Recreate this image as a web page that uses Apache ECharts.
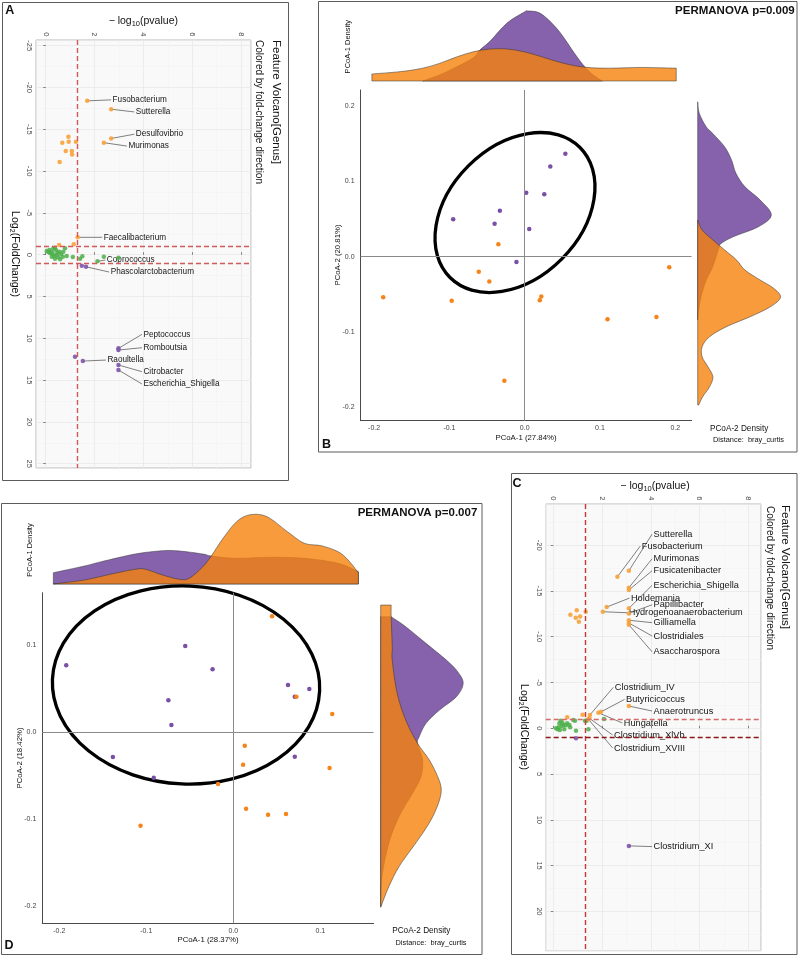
<!DOCTYPE html>
<html><head><meta charset="utf-8">
<script src="https://cdn.jsdelivr.net/npm/echarts@6/dist/echarts.min.js"></script>
<style>html,body{margin:0;padding:0;background:#fff}#c{width:800px;height:956px}</style>
</head><body><div id="c"></div>
<script>
// ================= DATA =================
// ---- Panel A : feature volcano (x = -log10 p, y = log2 fold change) ----
const A_orange_names = ['Fusobacterium','Sutterella','Desulfovibrio','Murimonas','','','','','','','','','Faecalibacterium','',''];
const A_orange_x = [1.70,2.68,2.68,2.38,0.93,0.68,0.94,1.24,0.82,1.07,1.08,0.57,1.31,0.55,1.15];
const A_orange_y = [-18.4,-17.4,-13.9,-13.4,-14.1,-13.4,-13.5,-13.5,-12.4,-12.4,-12.0,-11.1,-2.08,-1.16,-1.24];
const A_green_names = ['Coprococcus','','','','','','','','','','','','','','','','','','','','','','','','','','',''];
const A_green_x = [2.12,0.04,0.15,0.25,0.31,0.38,0.42,0.48,0.18,0.29,0.35,0.45,0.56,0.63,0.70,0.52,0.38,0.25,0.11,0.79,0.86,1.11,1.41,1.50,2.38,2.98,0.59,0.72];
const A_green_y = [0.79,-0.44,-0.56,-0.36,-0.76,-0.84,-0.56,-0.24,-0.16,-0.08,0.16,0.04,-0.36,-0.08,0.24,0.31,0.47,0.24,-0.32,-0.76,0.16,0.27,0.47,0.19,0.24,0.35,0.55,-0.36];
const A_purple_names = ['Phascolarctobacterium','','Peptococcus','Romboutsia','Raoultella','','Citrobacter','Escherichia_Shigella'];
const A_purple_x = [1.65,1.48,2.98,2.98,1.52,1.20,2.98,2.98];
const A_purple_y = [1.44,1.32,11.2,11.4,12.72,12.2,13.19,13.79];
const A_cut_p = [1.301];
const A_cut_fc = [-1, 1];

// ---- Panel C : feature volcano ----
const C_orange_names = ['Sutterella','Fusobacterium','Murimonas','Fusicatenibacter','Escherichia_Shigella','Holdemania','Papillibacter','Hydrogenoanaerobacterium','Gilliamella','Clostridiales','Asaccharospora','','','','','','','Clostridium_IV','Butyricicoccus','Anaerotruncus','Hungatella','Clostridium_XlVb','Clostridium_XVIII','',''];
const C_orange_x = [3.1,2.63,3.1,3.1,3.1,2.19,3.1,2.03,3.1,3.1,3.1,0.70,0.96,0.92,1.10,1.05,1.33,1.50,1.96,3.1,1.85,1.48,1.44,1.20,0.57];
const C_orange_y = [-17.2,-16.55,-15.35,-15.1,-13.1,-13.24,-12.55,-12.73,-11.8,-11.5,-11.3,-12.4,-12.9,-12.07,-12.2,-11.64,-12.73,-1.45,-1.8,-2.43,-1.7,-1.09,-0.98,-1.49,-1.2];
const C_green_x = [0.11,0.21,0.25,0.30,0.34,0.41,0.45,0.52,0.57,0.66,0.69,0.18,0.37,0.89,0.93,1.30,1.37,1.44,2.08,0.82,0.27];
const C_green_y = [0.0,-0.11,-0.55,-0.83,-0.25,-0.36,0.11,-0.33,-0.55,-0.36,-0.11,0.11,-0.62,-0.83,0.26,-0.83,-0.83,0.11,-1.0,-0.91,0.19];
const C_purple_names = ['','Clostridium_XI'];
const C_purple_x = [0.93,3.1];
const C_purple_y = [1.09,12.85];
const C_cut_p = [1.301];
const C_cut_fc = [-1, 1];

// ---- Panel B : PCoA (bray_curtis), [PCoA-1, PCoA-2] ----
const B_purple = [[0.054,0.137],[0.034,0.120],[0.002,0.085],[0.026,0.083],[-0.033,0.061],[-0.095,0.050],[-0.040,0.044],[0.006,0.037],[-0.011,-0.007]];
const B_orange = [[-0.035,0.0165],[-0.061,-0.020],[-0.047,-0.033],[-0.188,-0.054],[-0.097,-0.0585],[0.022,-0.053],[0.020,-0.058],[0.110,-0.083],[0.175,-0.080],[0.192,-0.014],[-0.027,-0.165]];
const B_ellipse = [-0.0129, 0.0588, 0.1221, 0.0877, 45]; // centre x, centre y, semi-axis a, semi-axis b, angle
// marginal densities: [coordinate, density]
const B_top_purple = [[-0.1356,0],[-0.1132,0.75],[-0.0907,1.75],[-0.0683,2.9],[-0.0593,3.9],[-0.0458,5.0],[-0.0234,7.25],[-0.0008,8.6],[0.0045,8.75],[0.0217,8.4],[0.0441,6.4],[0.0666,3.4],[0.0778,2.0],[0.089,0.9],[0.103,0]];
const B_top_orange = [[-0.203,0.88],[-0.1805,1.04],[-0.158,1.25],[-0.1356,1.6],[-0.1132,2.2],[-0.0907,3.0],[-0.0683,3.65],[-0.0458,4.0],[-0.0234,4.0],[-0.0008,3.65],[0.0217,3.05],[0.0441,2.4],[0.0666,1.9],[0.089,1.65],[0.1115,1.6],[0.134,1.65],[0.1563,1.7],[0.179,1.65],[0.2013,1.6]];
const B_right_purple = [[0.206,0],[0.1907,0.2],[0.1729,1.06],[0.164,1.88],[0.146,3.38],[0.1286,4.23],[0.111,4.78],[0.093,5.91],[0.0754,7.81],[0.0555,9.2],[0.0399,7.6],[0.0266,4.44],[0.0178,2.96],[0.0133,2.69],[-0.0133,1.88],[-0.031,1.06],[-0.053,0.43],[-0.071,0.13],[-0.084,0]];
const B_right_orange = [[0.0488,0],[0.0355,0.55],[0.0222,1.9],[0.0089,3.38],[-0.0044,4.86],[-0.0177,5.91],[-0.031,7.81],[-0.042,9.5],[-0.054,10.35],[-0.0665,9.09],[-0.0798,6.55],[-0.093,3.59],[-0.1064,1.48],[-0.1197,0.55],[-0.133,0.55],[-0.146,1.26],[-0.1596,1.9],[-0.173,1.48],[-0.186,0.63],[-0.197,0.13]];

// ---- Panel D : PCoA (bray_curtis) ----
const D_purple = [[-0.0552,0.0992],[-0.192,0.077],[-0.0238,0.0724],[0.0629,0.0544],[0.0874,0.0498],[0.0707,0.041],[-0.0746,0.0368],[-0.0711,0.0084],[-0.1384,-0.0284],[0.0707,-0.028],[-0.0914,-0.0522]];
const D_orange = [[0.0446,0.1333],[0.0726,0.041],[0.1138,0.021],[0.0132,-0.0154],[0.0113,-0.0372],[0.1107,-0.041],[-0.0175,-0.0594],[0.0147,-0.0878],[0.04,-0.0947],[0.0606,-0.0939],[-0.1066,-0.1073]];
const D_ellipse = [-0.0543, 0.0544, 0.1537, 0.1138, -2.5];
const D_top_purple = [[-0.2068,1.41],[-0.171,2.25],[-0.1516,2.79],[-0.1127,3.75],[-0.0816,4.16],[-0.0622,4.13],[-0.035,3.75],[-0.0253,3.5],[0.0038,3.21],[0.0427,3.34],[0.0816,3.21],[0.1205,2.59],[0.1438,1.54]];
const D_top_orange = [[-0.2068,0],[-0.171,0.5],[-0.1399,1.25],[-0.1127,1.84],[-0.101,1.84],[-0.0816,1.13],[-0.0622,0.59],[-0.0506,0.71],[-0.035,2.16],[-0.0253,3.5],[-0.0117,5.71],[0.0038,7.79],[0.0194,8.66],[0.0388,8.41],[0.0622,6.54],[0.0816,5.09],[0.101,4.79],[0.1205,4.04],[0.132,3.0],[0.1438,1.41]];
const D_right_purple = [[0.1329,1.31],[0.1214,3.13],[0.1023,5.66],[0.0831,8.2],[0.07,9.6],[0.0563,10.31],[0.0409,9.46],[0.0256,7.35],[0.0103,5.66],[-0.0051,4.81],[-0.0126,4.6],[-0.0318,5.24],[-0.051,5.03],[-0.0701,3.98],[-0.097,2.28],[-0.1276,1.01],[-0.166,0.16],[-0.2,0]];
const D_right_orange = [[0.1463,1.31],[0.1329,1.31],[0.0984,1.44],[0.0831,1.44],[0.0448,2.06],[0.0141,3.13],[-0.0126,4.6],[-0.0318,6.08],[-0.051,7.13],[-0.0644,7.56],[-0.0778,7.35],[-0.097,6.5],[-0.1161,5.24],[-0.1353,3.75],[-0.1545,2.28],[-0.1775,1.01],[-0.2011,0]];

// ================= LAYOUT (label offsets in px, relative to the point) =================
const A_label_off = {Fusobacterium:[25.4,-1],Sutterella:[24.7,2.7],Desulfovibrio:[24.7,-4.3],Murimonas:[24.6,3.4],Faecalibacterium:[26,0],Coprococcus:[9.4,-1.3],Phascolarctobacterium:[24.7,5.3],Peptococcus:[25,-14],Romboutsia:[25,-2.3],Raoultella:[24.6,-1],Citrobacter:[25,6.7],Escherichia_Shigella:[25,14]};
const C_label_off = {Sutterella:[24.7,-36.7],Fusobacterium:[24.4,-30.7],Murimonas:[24.7,-29],Fusicatenibacter:[24.7,-19.3],Escherichia_Shigella:[24.7,-23],Holdemania:[24.3,-9],Papillibacter:[24.7,-8.6],Hydrogenoanaerobacterium:[26,1],Gilliamella:[24.7,2.4],Clostridiales:[24.7,13],Asaccharospora:[24.7,27],Clostridium_IV:[25,-27.7],Butyricicoccus:[25,-12.4],Anaerotruncus:[24.7,5],Hungatella:[25.4,10.3],Clostridium_XlVb:[24.7,16.7],Clostridium_XVIII:[25.7,28.7],Clostridium_XI:[24.7,0.7]};

const FONT = "'Liberation Sans', Arial, Helvetica, sans-serif";
const COL = {vOrange:'#F7A13A', vGreen:'#4DAF4A', vPurple:'#7D55AA', pOrange:'#F5841A', pPurple:'#7A4FA6',
             dPurple:'#8562AB', dOrange:'rgba(245,130,13,0.80)'};

function pairs(xs, ys){ return xs.map((x,i)=>[x, ys[i]]); }
function labeled(names, xs, ys){ const o=[]; names.forEach((n,i)=>{ if(n) o.push({name:n,x:xs[i],y:ys[i]}); }); return o; }
const fmt = p => p[0].toFixed(2)+','+p[1].toFixed(2);

// ================= AXES =================
function volX(gi, min, max){ return {type:'value', gridIndex:gi, position:'top', min, max, splitNumber:5,
  axisLine:{show:false}, axisTick:{show:true,length:2.5,lineStyle:{color:'#666',width:0.8}},
  axisLabel:{rotate:-90, fontSize:7.5, color:'#4d4d4d', margin:3.5, fontFamily:FONT, showMinLabel:false, showMaxLabel:false},
  splitLine:{show:true,lineStyle:{color:'#E8E8E8',width:0.8}}, minorTick:{show:false,splitNumber:2},
  minorSplitLine:{show:true,lineStyle:{color:'#F1F1F1',width:0.6}}}; }
function volY(gi, min, max){ return {type:'value', gridIndex:gi, inverse:true, min, max, splitNumber:10,
  axisLine:{show:false}, axisTick:{show:true,length:2.5,lineStyle:{color:'#666',width:0.8}},
  axisLabel:{rotate:-90, fontSize:7.5, color:'#4d4d4d', margin:3, fontFamily:FONT, showMinLabel:false, showMaxLabel:false},
  splitLine:{show:true,lineStyle:{color:'#E8E8E8',width:0.8}}, minorTick:{show:false,splitNumber:2},
  minorSplitLine:{show:true,lineStyle:{color:'#F1F1F1',width:0.6}}}; }
function pcoaAxis(gi, min, max, isX){ return {type:'value', gridIndex:gi, min, max, splitNumber:5,
  axisLine:{show:true,onZero:false,lineStyle:{color:'#4a4a4a',width:1}}, axisTick:{show:false}, splitLine:{show:false},
  axisLabel:{fontSize:7, color:'#444', margin:isX?4:6, fontFamily:FONT, showMinLabel:false, showMaxLabel:false,
    formatter:v=>v.toFixed(1)}}; }
function hid(gi, min, max){ return {type:'value', gridIndex:gi, min, max, show:false, splitLine:{show:false}}; }

const grid = [
  {left:36, top:40, width:215, height:428, show:true, backgroundColor:'#F9F9F9', borderColor:'#B8B8B8', borderWidth:1},
  {left:360.6, top:90, width:331, height:330.7},
  {left:360.6, top:5, width:331, height:76},
  {left:697.7, top:90, width:100, height:330.7},
  {left:42.3, top:592.7, width:331.3, height:330.6},
  {left:42.3, top:508, width:331.3, height:76},
  {left:380.7, top:592.7, width:100, height:330.6},
  {left:545.7, top:504, width:215.3, height:446.7, show:true, backgroundColor:'#F9F9F9', borderColor:'#B8B8B8', borderWidth:1}
].map(g=>Object.assign({containLabel:false, outerBoundsMode:'none'}, g));

const xAxis = [
  volX(0,-0.398,8.41),
  pcoaAxis(1,-0.218,0.2217,true), hid(2,-0.218,0.2217), hid(3,0,12.5),
  pcoaAxis(4,-0.2195,0.1613,true), hid(5,-0.2195,0.1613), hid(6,0,12.5),
  volX(7,-0.312,8.521)
];
const yAxis = [
  volY(0,-25.68,25.51),
  pcoaAxis(1,-0.218,0.2217,false), hid(2,0,9.5), hid(3,-0.218,0.2217),
  pcoaAxis(4,-0.2195,0.1605,false), hid(5,0,9.5), hid(6,-0.2195,0.1605),
  volY(7,-24.5,24.3)
];

// ================= SERIES HELPERS =================
function scatter(gi, data, color, size, opacity, z){ return {type:'scatter', xAxisIndex:gi, yAxisIndex:gi, data, symbolSize:size,
  itemStyle:{color, opacity}, z:z||4, silent:true}; }
function labels(gi, items, off, fs){ return {type:'custom', xAxisIndex:gi, yAxisIndex:gi, z:3, silent:true,
  data: items.map(d=>[d.x,d.y]),
  renderItem:(params, api)=>{ const it=items[params.dataIndex]; const p=api.coord([api.value(0),api.value(1)]);
    const o=off[it.name]; const tx=p[0]+o[0], ty=p[1]+o[1];
    return {type:'group', children:[
      {type:'line', shape:{x1:p[0],y1:p[1],x2:tx-1.5,y2:ty}, style:{stroke:'#4a4a4a',lineWidth:0.7}},
      {type:'text', x:tx, y:ty, style:{text:it.name, fontSize:fs, fontFamily:FONT, fill:'#151515', align:'left', verticalAlign:'middle'}}
    ]}; }}; }
function density(gi, pts, top, fill){ // pts: [coordinate, density]
  const P0 = top ? pts : pts.map(p=>[p[1],p[0]]);
  return {type:'custom', xAxisIndex:gi, yAxisIndex:gi, z:2, silent:true, data:P0,
    renderItem:(params, api)=>{ if(params.dataIndex!==0) return null;
      const P = P0.map(p=>api.coord(p));
      const f0=P0[0], f1=P0[P0.length-1];
      const b0 = api.coord(top?[f0[0],0]:[0,f0[1]]), b1 = api.coord(top?[f1[0],0]:[0,f1[1]]);
      const cl = top ? (c=>[c[0],Math.min(c[1],b0[1])]) : (c=>[Math.max(c[0],b0[0]),c[1]]);
      let d='M'+fmt(b0)+' L'+fmt(P[0]);
      for(let i=0;i<P.length-1;i++){ const p0=P[i-1]||P[i], p1=P[i], p2=P[i+1], p3=P[i+2]||P[i+1];
        const c1=cl([p1[0]+(p2[0]-p0[0])/6, p1[1]+(p2[1]-p0[1])/6]);
        const c2=cl([p2[0]-(p3[0]-p1[0])/6, p2[1]-(p3[1]-p1[1])/6]);
        d+=' C'+fmt(c1)+' '+fmt(c2)+' '+fmt(p2); }
      d+=' L'+fmt(b1)+' Z';
      return {type:'path', shape:{pathData:d}, style:{fill, stroke:'#2f2f2f', lineWidth:0.5}}; }}; }
function ellipse(gi, e){ return {type:'custom', xAxisIndex:gi, yAxisIndex:gi, z:3, silent:true, data:[e],
  renderItem:(params, api)=>{ const c=api.coord([api.value(0),api.value(1)]);
    const s=api.size([api.value(2),api.value(3)],[api.value(0),api.value(1)]); const rx=s[0], ry=s[1];
    return {type:'path', x:c[0], y:c[1], rotation:api.value(4)*Math.PI/180,
      shape:{pathData:`M${-rx},0 A${rx},${ry} 0 1 0 ${rx},0 A${rx},${ry} 0 1 0 ${-rx},0 Z`},
      style:{fill:'none', stroke:'#000', lineWidth:3.3}}; }}; }
function cutLines(cp, cfc, colors){ return {silent:true, symbol:['none','none'], label:{show:false}, animation:false,
  data:[{xAxis:cp[0], lineStyle:{color:colors[0]}}, {yAxis:cfc[0], lineStyle:{color:colors[1]}}, {yAxis:cfc[1], lineStyle:{color:colors[2]}}],
  lineStyle:{type:[5,3], width:1.4}}; }
function zeroLines(){ return {silent:true, symbol:['none','none'], label:{show:false}, animation:false,
  data:[{xAxis:0},{yAxis:0}], lineStyle:{type:'solid', color:'#8a8a8a', width:1}}; }

// ================= SERIES =================
const series = [];
// Panel A
const sA = scatter(0, pairs(A_green_x,A_green_y), COL.vGreen, 4.5, 0.85);
sA.markLine = cutLines(A_cut_p, A_cut_fc, ['#D25A5A','#D25A5A','#D25A5A']);
series.push(sA, scatter(0, pairs(A_orange_x,A_orange_y), COL.vOrange, 4.5, 0.9), scatter(0, pairs(A_purple_x,A_purple_y), COL.vPurple, 4.5, 0.9));
series.push(labels(0, [].concat(labeled(A_orange_names,A_orange_x,A_orange_y), labeled(A_green_names,A_green_x,A_green_y), labeled(A_purple_names,A_purple_x,A_purple_y)), A_label_off, 8.2));
// Panel C
const sC = scatter(7, pairs(C_green_x,C_green_y), COL.vGreen, 4.5, 0.85);
sC.markLine = cutLines(C_cut_p, C_cut_fc, ['#C23B3B','#D46A6A','#8E1717']);
series.push(sC, scatter(7, pairs(C_orange_x,C_orange_y), COL.vOrange, 4.5, 0.9), scatter(7, pairs(C_purple_x,C_purple_y), COL.vPurple, 4.5, 0.9));
series.push(labels(7, [].concat(labeled(C_orange_names,C_orange_x,C_orange_y), labeled(C_purple_names,C_purple_x,C_purple_y)), C_label_off, 9.2));
// Panel B
const sBp = scatter(1, B_purple, COL.pPurple, 4.5, 1); sBp.markLine = zeroLines();
series.push(sBp, scatter(1, B_orange, COL.pOrange, 4.5, 1), ellipse(1, B_ellipse));
series.push(density(2, B_top_purple, true, COL.dPurple), density(2, B_top_orange, true, COL.dOrange));
series.push(density(3, B_right_purple, false, COL.dPurple), density(3, B_right_orange, false, COL.dOrange));
// Panel D
const sDp = scatter(4, D_purple, COL.pPurple, 4.5, 1); sDp.markLine = zeroLines();
series.push(sDp, scatter(4, D_orange, COL.pOrange, 4.5, 1), ellipse(4, D_ellipse));
series.push(density(5, D_top_purple, true, COL.dPurple), density(5, D_top_orange, true, COL.dOrange));
series.push(density(6, D_right_purple, false, COL.dPurple), density(6, D_right_orange, false, COL.dOrange));

// ================= TEXT / FRAMES =================
const rich = {a:{fontSize:10.5, fontFamily:FONT, fill:'#111'}, s:{fontSize:7.5, fontFamily:FONT, fill:'#111', padding:[6,0,0,0]}};
function txt(x, y, text, o){ o=o||{}; return {type:'text', x, y, rotation:o.rot||0, z:20, silent:true,
  style:{text, fontSize:o.fs||10, fontFamily:FONT, fontWeight:o.bold?'bold':'normal', fill:o.fill||'#111',
    align:o.align||'center', verticalAlign:o.va||'middle', rich:o.rich}}; }
function frame(x, y, w, h){ return {type:'rect', z:20, silent:true, shape:{x, y, width:w, height:h}, style:{fill:'none', stroke:'#5c5c5c', lineWidth:1}}; }
const R = Math.PI/2;
const graphic = [
  frame(2.5,2.5,286,478), frame(318.5,1.5,478.5,450.5), frame(511.5,473.5,285.5,481), frame(1.5,503.5,480.5,451),
  // panel letters
  txt(9.7,10.7,'A',{fs:12.5,bold:true}), txt(326.5,444.5,'B',{fs:12.5,bold:true}),
  txt(517,483.7,'C',{fs:12.5,bold:true}), txt(9,945.8,'D',{fs:12.5,bold:true}),
  // panel A texts
  txt(143.3,21,'{a|− log}{s|10}{a|(pvalue)}',{rich}),
  txt(15,254,'{a|Log}{s|2}{a|(FoldChange)}',{rich, rot:-R}),
  txt(275.7,40,'Feature Volcano[Genus]',{fs:11.5, rot:-R, align:'left'}),
  txt(259,40,'Colored by fold-change direction',{fs:10, rot:-R, align:'left'}),
  // panel C texts
  txt(655,486,'{a|− log}{s|10}{a|(pvalue)}',{rich}),
  txt(524,727,'{a|Log}{s|2}{a|(FoldChange)}',{rich, rot:-R}),
  txt(785,505,'Feature Volcano[Genus]',{fs:11.5, rot:-R, align:'left'}),
  txt(769.3,506,'Colored by fold-change direction',{fs:10, rot:-R, align:'left'}),
  // panel B texts
  txt(794.7,10.7,'PERMANOVA p=0.009',{fs:11.5, bold:true, align:'right'}),
  txt(347.8,46.7,'PCoA-1 Density',{fs:7.5, rot:R}),
  txt(526,438,'PCoA-1 (27.84%)',{fs:7.8}),
  txt(337.6,255,'PCoA-2 (20.81%)',{fs:7.8, rot:R}),
  txt(710,428.3,'PCoA-2 Density',{fs:8.2, align:'left'}),
  txt(713,440,'Distance:  bray_curtis',{fs:7.4, align:'left'}),
  // panel D texts
  txt(477.3,512.7,'PERMANOVA p=0.007',{fs:11.5, bold:true, align:'right'}),
  txt(29.7,550,'PCoA-1 Density',{fs:7.5, rot:R}),
  txt(208,940,'PCoA-1 (28.37%)',{fs:7.8}),
  txt(19.6,758,'PCoA-2 (18.42%)',{fs:7.8, rot:R}),
  txt(392.2,930.7,'PCoA-2 Density',{fs:8.2, align:'left'}),
  txt(395.5,943,'Distance:  bray_curtis',{fs:7.4, align:'left'})
];

const chart = echarts.init(document.getElementById('c'), null, {renderer:'canvas', width:800, height:956});
chart.setOption({animation:false, backgroundColor:'#fff', grid, xAxis, yAxis, series, graphic});
</script></body></html>
